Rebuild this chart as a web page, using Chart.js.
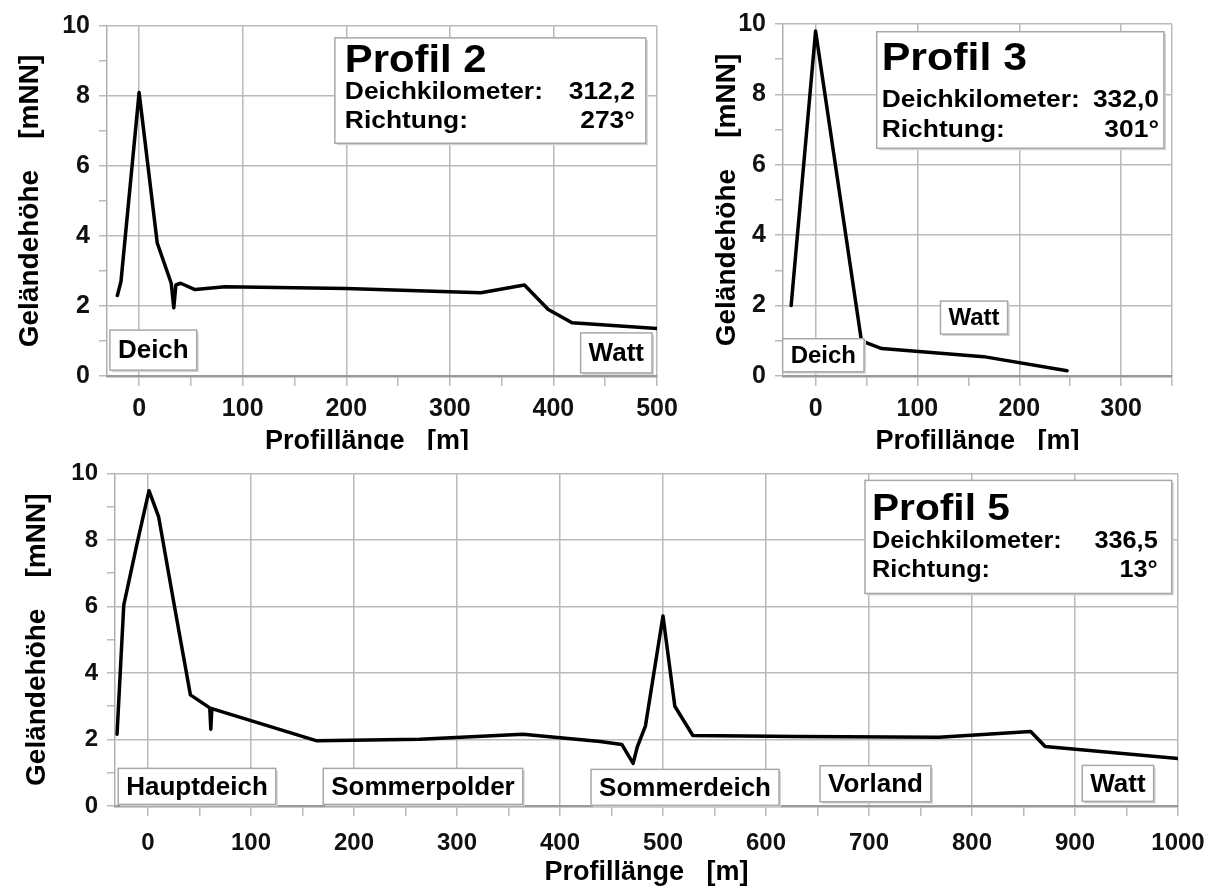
<!DOCTYPE html>
<html lang="de">
  <head>
    <meta charset="UTF-8" />
    <title>Geländeprofile</title>
    <script src="https://cdn.jsdelivr.net/npm/chart.js"></script>
    <style>
      body {
        margin: 0;
        background: #fff;
      }
      .panel {
        position: absolute;
        overflow: hidden; /* Achsentitel oben wird wie im Original abgeschnitten */
      }
      .panel canvas {
        display: block;
      }
      #p2 { left: 0; top: 0; width: 690px; height: 450px; }
      #p3 { left: 690px; top: 0; width: 528px; height: 450px; }
      #p5 { left: 0; top: 450px; width: 1218px; height: 439px; }
    </style>
  </head>
  <body>
    <div class="panel" id="p2"><canvas id="c2" width="690" height="470"></canvas></div>
    <div class="panel" id="p3"><canvas id="c3" width="528" height="470"></canvas></div>
    <div class="panel" id="p5"><canvas id="c5" width="1218" height="439"></canvas></div>

    <script>
      // Profil 2 (Profillänge in m, Geländehöhe in mNN)
      const p2Dist = [-21, -17.5, 0, 17.5, 31, 33.5, 35.5, 40, 54, 83, 200, 330, 372, 395, 418, 500]
      const p2Hoehe = [2.3, 2.7, 8.1, 3.8, 2.65, 1.95, 2.6, 2.65, 2.47, 2.55, 2.5, 2.38, 2.6, 1.9, 1.52, 1.36]

      // Profil 3
      const p3Dist = [-24, 0, 45, 65, 165, 247]
      const p3Hoehe = [2.0, 9.8, 1.0, 0.78, 0.55, 0.15]

      // Profil 5
      const p5Dist = [-30, -23.5, -10.8, 1, 10.4, 25.8, 41.2, 60, 61, 62, 164, 264, 364, 439, 460, 471, 475, 483, 500, 511.5, 529, 630, 768, 857, 871, 1000]
      const p5Hoehe = [2.16, 6.04, 7.86, 9.48, 8.69, 5.99, 3.34, 2.95, 2.31, 2.93, 1.96, 2.01, 2.16, 1.94, 1.85, 1.28, 1.77, 2.41, 5.71, 3.0, 2.12, 2.09, 2.07, 2.24, 1.79, 1.43]

      // Achsenbeschriftungen
      const yTickLabels = [0, 2, 4, 6, 8, 10]
      const xTicksP2 = [0, 100, 200, 300, 400, 500]
      const xTicksP3 = [0, 100, 200, 300]
      const xTicksP5 = [0, 100, 200, 300, 400, 500, 600, 700, 800, 900, 1000]

      const yTitle = 'Geländehöhe    [mNN]'
      const xTitle = 'Profillänge   [m]'

      const FONT = '"Liberation Sans", Arial, sans-serif'
      const GRID = '#bababa'

      function drawBox(ctx, x, y, w, h) {
        ctx.fillStyle = '#d4d4d4'
        ctx.fillRect(x + 2, y + 2, w, h)
        ctx.fillStyle = '#fff'
        ctx.fillRect(x, y, w, h)
        ctx.strokeStyle = '#a8a8a8'
        ctx.lineWidth = 1.5
        ctx.strokeRect(x, y, w, h)
      }

      // Text leicht in die Breite gezogen, wie im Scan
      function wideText(ctx, text, x, y, align, font) {
        ctx.save()
        ctx.font = font
        ctx.textAlign = align
        ctx.translate(x, y)
        ctx.scale(1.1, 1)
        ctx.fillText(text, 0, 0)
        ctx.restore()
      }

      const beschriftung = {
        id: 'beschriftung',
        afterDatasetsDraw(chart, args, o) {
          const { ctx } = chart
          const sx = chart.scales.x
          const sy = chart.scales.y
          ctx.save()

          // kleine Kästen: Deich, Watt ...
          ctx.font = `bold ${o.labelSize}px ${FONT}`
          o.labels.forEach((l) => {
            const w = ctx.measureText(l.text).width + 16
            const cx = sx.getPixelForValue(l.x)
            const cy = sy.getPixelForValue(l.y)
            drawBox(ctx, cx - w / 2, cy - o.labelH / 2, w, o.labelH)
            ctx.fillStyle = '#000'
            ctx.textAlign = 'center'
            ctx.textBaseline = 'middle'
            ctx.fillText(l.text, cx, cy + 1)
          })

          // Infokasten
          const b = o.info
          const left = sx.getPixelForValue(b.x0)
          const right = sx.getPixelForValue(b.x1)
          const top = sy.getPixelForValue(b.y0)
          const bottom = sy.getPixelForValue(b.y1)
          drawBox(ctx, left, top, right - left, bottom - top)
          ctx.fillStyle = '#000'
          ctx.textBaseline = 'alphabetic'
          wideText(ctx, b.title, left + b.padL, top + b.titleBase, 'left', `bold ${b.titleSize}px ${FONT}`)
          const rowFont = `bold ${b.rowSize}px ${FONT}`
          b.rows.forEach((r, i) => {
            wideText(ctx, r[0], left + b.padL, top + b.rowBase[i], 'left', rowFont)
            wideText(ctx, r[1], right - b.padR, top + b.rowBase[i], 'right', rowFont)
          })
          ctx.restore()
        },
      }

      function profilChart(id, o) {
        return new Chart(document.getElementById(id), {
          type: 'line',
          data: {
            datasets: [
              {
                data: o.dist.map((d, i) => ({ x: d, y: o.hoehe[i] })),
                borderColor: '#000',
                borderWidth: 3.5,
                pointRadius: 0,
                tension: 0,
                borderJoinStyle: 'round',
                borderCapStyle: 'round',
              },
            ],
          },
          plugins: [beschriftung],
          options: {
            responsive: false,
            animation: false,
            layout: { padding: o.pad },
            plugins: {
              legend: { display: false },
              tooltip: { enabled: false },
              beschriftung: o.notes,
            },
            scales: {
              x: {
                type: 'linear',
                min: o.xMin,
                max: o.xMax,
                afterFit: (s) => {
                  s.height = o.xH
                },
                ticks: {
                  stepSize: 50,
                  includeBounds: false,
                  autoSkip: false,
                  maxRotation: 0,
                  padding: o.xPad,
                  color: '#111',
                  font: { family: FONT, size: o.tickSize, weight: 'bold' },
                  callback: (v) => (o.xTicks.includes(v) ? v : ''),
                },
                grid: {
                  color: (c) => (o.xTicks.includes(c.tick.value) || c.tick.value === o.xMax ? GRID : 'transparent'),
                  lineWidth: 1.5,
                  tickLength: 10,
                  tickColor: GRID,
                },
                border: { color: '#9a9a9a', width: 2.5 },
                title: {
                  display: true,
                  text: o.xTitle,
                  color: '#000',
                  font: { family: FONT, size: 27, weight: 'bold' },
                  padding: { top: 0, bottom: o.xTitlePad },
                },
              },
              y: {
                min: 0,
                max: 10,
                afterFit: (s) => {
                  s.width = o.yW
                },
                ticks: {
                  stepSize: 1,
                  autoSkip: false,
                  padding: 9,
                  color: '#111',
                  font: { family: FONT, size: o.tickSize, weight: 'bold' },
                  callback: (v) => (yTickLabels.includes(v) ? v : ''),
                },
                grid: {
                  color: (c) => (yTickLabels.includes(c.tick.value) ? GRID : 'transparent'),
                  lineWidth: 1.5,
                  tickLength: 8,
                  tickColor: GRID,
                },
                border: { color: '#b0b0b0', width: 1.5 },
                title: {
                  display: true,
                  text: yTitle,
                  color: '#000',
                  font: { family: FONT, size: 28, weight: 'bold' },
                  padding: { top: o.yTitlePad, bottom: 0 },
                },
              },
            },
          },
        })
      }

      profilChart('c2', {
        dist: p2Dist,
        hoehe: p2Hoehe,
        xMin: -31,
        xMax: 500,
        xTicks: xTicksP2,
        xTitle: xTitle + '    ',
        pad: { left: 0, top: 26, right: 33, bottom: 0 },
        yW: 107,
        xH: 94,
        xPad: 8,
        xTitlePad: 12,
        yTitlePad: 13,
        tickSize: 25,
        notes: {
          labelSize: 26,
          labelH: 40,
          labels: [
            { text: 'Deich', x: 13.7, y: 0.74 },
            { text: 'Watt', x: 460.7, y: 0.66 },
          ],
          info: {
            x0: 189, x1: 489.2, y0: 9.66, y1: 6.65,
            title: 'Profil 2',
            rows: [['Deichkilometer:', '312,2'], ['Richtung:', '273°']],
            titleSize: 38, rowSize: 24, padL: 10, padR: 11, titleBase: 34, rowBase: [61, 90],
          },
        },
      })

      profilChart('c3', {
        dist: p3Dist,
        hoehe: p3Hoehe,
        xMin: -32,
        xMax: 350,
        xTicks: xTicksP3,
        xTitle: xTitle,
        pad: { left: 0, top: 24, right: 46, bottom: 0 },
        yW: 93,
        xH: 94,
        xPad: 8,
        xTitlePad: 12,
        yTitlePad: 20,
        tickSize: 25,
        notes: {
          labelSize: 24,
          labelH: 33,
          labels: [
            { text: 'Deich', x: 7.6, y: 0.59 },
            { text: 'Watt', x: 155.6, y: 1.66 },
          ],
          info: {
            x0: 60, x1: 342.1, y0: 9.78, y1: 6.47,
            title: 'Profil 3',
            rows: [['Deichkilometer:', '332,0'], ['Richtung:', '301°']],
            titleSize: 39, rowSize: 24, padL: 5, padR: 5, titleBase: 38, rowBase: [75, 105],
          },
        },
      })

      profilChart('c5', {
        dist: p5Dist,
        hoehe: p5Hoehe,
        xMin: -32,
        xMax: 1000,
        xTicks: xTicksP5,
        xTitle: xTitle,
        pad: { left: 0, top: 18, right: 40, bottom: 0 },
        yW: 115,
        xH: 83,
        xPad: 13,
        xTitlePad: 0,
        yTitlePad: 20,
        tickSize: 24,
        notes: {
          labelSize: 26,
          labelH: 36,
          labels: [
            { text: 'Hauptdeich', x: 47.6, y: 0.59 },
            { text: 'Sommerpolder', x: 267, y: 0.59 },
            { text: 'Sommerdeich', x: 521.4, y: 0.56 },
            { text: 'Vorland', x: 706.3, y: 0.67 },
            { text: 'Watt', x: 941.7, y: 0.68 },
          ],
          info: {
            x0: 696.1, x1: 993.9, y0: 9.79, y1: 6.39,
            title: 'Profil 5',
            rows: [['Deichkilometer:', '336,5'], ['Richtung:', '13°']],
            titleSize: 37, rowSize: 23, padL: 7, padR: 14, titleBase: 40, rowBase: [68, 97],
          },
        },
      })
    </script>
  </body>
</html>
